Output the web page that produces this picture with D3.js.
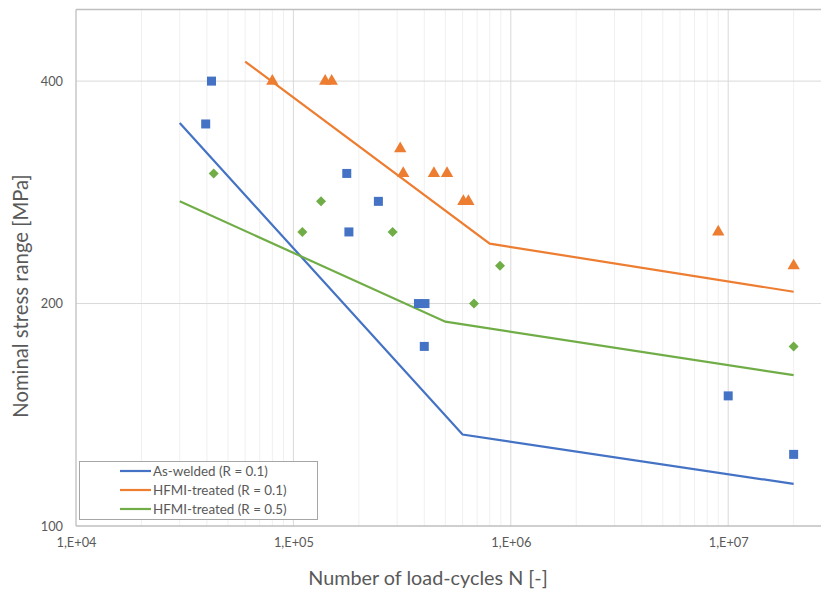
<!DOCTYPE html>
<html><head><meta charset="utf-8">
<script src="https://cdn.jsdelivr.net/npm/d3@7"></script>
<style>
body{margin:0;background:#fff;}
text{font-family:Lato,"Open Sans",sans-serif;fill:#595959;}
</style>
</head><body>
<svg id="chart" width="821" height="590"></svg>
<script>
// ---- data ----
const xTickValues = [1e4, 1e5, 1e6, 1e7];
const xTickLabels = ["1,E+04", "1,E+05", "1,E+06", "1,E+07"];
const yTickValues = [100, 200, 400];
const yTickLabels = ["100", "200", "400"];
const seriesNames = ["As-welded (R = 0.1)", "HFMI-treated (R = 0.1)", "HFMI-treated (R = 0.5)"];
const seriesColors = ["#4472C4", "#ED7D31", "#70AD47"];

// test points
const awN   = [42000, 39500, 176000, 246000, 180000, 376000, 403000, 400000, 1e7, 2e7];
const awS   = [400, 350, 300, 275, 250, 200, 200, 175, 150, 125];
const h01N  = [80000, 140000, 150000, 310000, 320000, 443000, 509000, 605000, 638000, 9e6, 2e7];
const h01S  = [400, 400, 400, 324, 300, 300, 300, 275, 275, 250, 225];
const h05N  = [43000, 134000, 110000, 286000, 892000, 677000, 2e7];
const h05S  = [300, 275, 250, 250, 225, 200, 175];

// S-N curves
const awLineN  = [30000, 600000, 2e7];
const awLineS  = [351, 133, 114];
const h01LineN = [60000, 800000, 2e7];
const h01LineS = [425, 241, 207.5];
const h05LineN = [30000, 500000, 2e7];
const h05LineS = [275, 189, 160];

const xTitle = "Number of load-cycles N [-]";
const yTitle = "Nominal stress range [MPa]";

// ---- drawing ----
const svg = d3.select("#chart");
const pLeft = 76, pTop = 9.5, pBottom = 526;
const x = d3.scaleLog().domain([1e4, 1e8]).range([pLeft, pLeft + 4 * 217.4]);
const y = d3.scaleLog().base(2).domain([100, 500]).range([pBottom, pTop]);

// minor vertical gridlines
const minor = [];
for (let d = 4; d < 8; d++) for (let k = 2; k <= 9; k++) minor.push(k * Math.pow(10, d));
svg.append("g").selectAll("line").data(minor).join("line")
  .attr("x1", d => x(d)).attr("x2", d => x(d))
  .attr("y1", pTop).attr("y2", pBottom)
  .attr("stroke", "#F0F0F0").attr("stroke-width", 1);
// major vertical gridlines
svg.append("g").selectAll("line").data(xTickValues.slice(1).concat([1e8])).join("line")
  .attr("x1", d => x(d)).attr("x2", d => x(d))
  .attr("y1", pTop).attr("y2", pBottom)
  .attr("stroke", "#D9D9D9").attr("stroke-width", 1);
// horizontal gridlines
svg.append("g").selectAll("line").data(yTickValues.slice(1)).join("line")
  .attr("x1", pLeft).attr("x2", 821)
  .attr("y1", d => y(d)).attr("y2", d => y(d))
  .attr("stroke", "#D9D9D9").attr("stroke-width", 1);

// plot borders
svg.append("line").attr("x1", pLeft).attr("x2", 821).attr("y1", pTop).attr("y2", pTop)
  .attr("stroke", "#BFBFBF").attr("stroke-width", 1.3);
svg.append("line").attr("x1", pLeft).attr("x2", pLeft).attr("y1", pTop).attr("y2", pBottom)
  .attr("stroke", "#BFBFBF").attr("stroke-width", 1.3);
svg.append("line").attr("x1", pLeft).attr("x2", 821).attr("y1", pBottom).attr("y2", pBottom)
  .attr("stroke", "#BFBFBF").attr("stroke-width", 1.3);

// axes
const xAxis = d3.axisBottom(x).tickValues(xTickValues)
  .tickFormat((d, i) => xTickLabels[i]).tickSize(0).tickPadding(12);
const gx = svg.append("g").attr("transform", `translate(0,${pBottom})`).call(xAxis);
gx.select(".domain").remove();
gx.selectAll("text").style("font-size", "12.8px").style("font-family", "Lato,'Open Sans',sans-serif").attr("fill", "#595959");

const yAxis = d3.axisLeft(y).tickValues(yTickValues)
  .tickFormat((d, i) => yTickLabels[i]).tickSize(0).tickPadding(13);
const gy = svg.append("g").attr("transform", `translate(${pLeft},0)`).call(yAxis);
gy.select(".domain").remove();
gy.selectAll("text").style("font-size", "12.8px").style("font-family", "Lato,'Open Sans',sans-serif").attr("fill", "#595959");

// lines
const line = d3.line().x(d => x(d[0])).y(d => y(d[1]));
const lineSets = [
  d3.zip(awLineN, awLineS),
  d3.zip(h01LineN, h01LineS),
  d3.zip(h05LineN, h05LineS)
];
lineSets.forEach((pts, i) => {
  svg.append("path").datum(pts).attr("d", line)
    .attr("fill", "none").attr("stroke", seriesColors[i]).attr("stroke-width", 2.2);
});

// markers
const sq = d3.symbol().type(d3.symbolSquare).size(81)();
const tri = d3.symbol().type(d3.symbolTriangle).size(66)();
const dia = d3.symbol().type(d3.symbolSquare).size(50)();
svg.append("g").selectAll("path").data(d3.zip(awN, awS)).join("path")
  .attr("d", sq).attr("transform", d => `translate(${x(d[0])},${y(d[1])})`)
  .attr("fill", seriesColors[0]);
svg.append("g").selectAll("path").data(d3.zip(h01N, h01S)).join("path")
  .attr("d", tri).attr("transform", d => `translate(${x(d[0])},${y(d[1])})`)
  .attr("fill", seriesColors[1]);
svg.append("g").selectAll("path").data(d3.zip(h05N, h05S)).join("path")
  .attr("d", dia).attr("transform", d => `translate(${x(d[0])},${y(d[1])}) rotate(45)`)
  .attr("fill", seriesColors[2]);

// legend
const lg = svg.append("g");
lg.append("rect").attr("x", 79.5).attr("y", 461.5).attr("width", 238).attr("height", 58)
  .attr("fill", "#fff").attr("stroke", "#A6A6A6").attr("stroke-width", 1);
seriesNames.forEach((name, i) => {
  const yy = 471 + i * 19;
  lg.append("line").attr("x1", 120).attr("x2", 151).attr("y1", yy).attr("y2", yy)
    .attr("stroke", seriesColors[i]).attr("stroke-width", 2.2);
  lg.append("text").attr("x", 153).attr("y", yy).attr("dy", "0.35em")
    .style("font-size", "13.4px").text(name);
});

// titles
svg.append("text").attr("x", 428).attr("y", 578).attr("dy", "0.35em")
  .attr("text-anchor", "middle").style("font-size", "19.8px").text(xTitle);
svg.append("text").attr("transform", "translate(21,296) rotate(-90)").attr("dy", "0.35em")
  .attr("text-anchor", "middle").style("font-size", "20.3px").text(yTitle);
</script>
</body></html>
